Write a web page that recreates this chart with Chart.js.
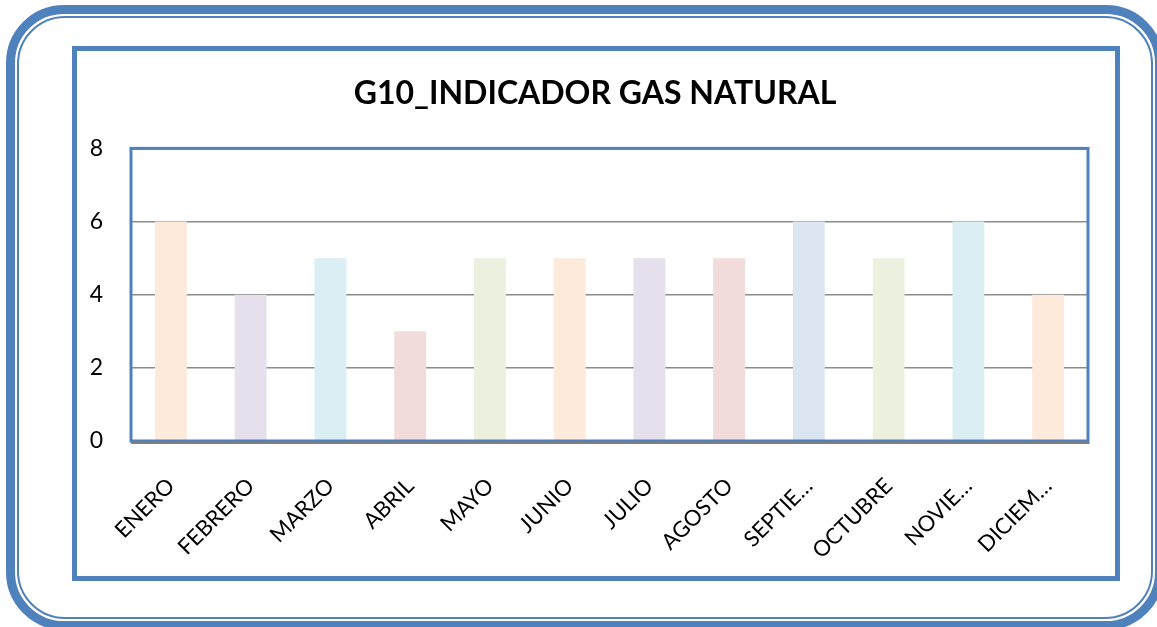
<!DOCTYPE html>
<html>
<head>
<meta charset="utf-8">
<script src="https://cdn.jsdelivr.net/npm/chart.js@4.4.1/dist/chart.umd.min.js"></script>
<style>
  html, body { margin: 0; padding: 0; background: #fff; overflow: hidden; }
  body { width: 1157px; height: 627px; position: relative; }
  #outer { position: absolute; left: 6px; top: 5px; width: 1158px; height: 625px; box-sizing: border-box;
           border: 9px solid #4F81BD; border-radius: 58px; }
  #outerInner { position: absolute; left: 2px; top: 2px; right: 2px; bottom: 2px;
           border: 2.5px solid #4F81BD; border-radius: 48px; }
  #frame { position: absolute; left: 72px; top: 46px; width: 1048px; height: 535px; box-sizing: border-box;
           border: 5px solid #4F81BD; }
  #wrap { position: absolute; left: 0; top: 0; width: 1157px; height: 627px; }
</style>
</head>
<body>
<div id="outer"><div id="outerInner"></div></div>
<div id="frame"></div>
<div id="wrap"><canvas id="c" width="1157" height="627"></canvas></div>
<script>
const categories = ["ENERO","FEBRERO","MARZO","ABRIL","MAYO","JUNIO","JULIO","AGOSTO","SEPTIE…","OCTUBRE","NOVIE…","DICIEM…"];
const values = [6, 4, 5, 3, 5, 5, 5, 5, 6, 5, 6, 4];
const barColors = ["#FDEADA","#E5E0EC","#DBEEF4","#F2DCDB","#EBF1DE","#FDEADA","#E5E0EC","#F2DCDB","#DCE6F2","#EBF1DE","#DBEEF4","#FDEADA"];
const yTicks = [0, 2, 4, 6, 8];
const titleText = "G10_INDICADOR GAS NATURAL";

const plotBorder = {
  id: 'plotBorder',
  afterLayout(chart) {
    // centre the title over the inner frame rather than the padded chart width
    const t = chart.titleBlock;
    if (t) { t.left = 102; t.width = t.right - t.left; }
  },
  afterDatasetsDraw(chart) {
    const a = chart.chartArea, ctx = chart.ctx;
    ctx.save();
    ctx.strokeStyle = '#4F81BD';
    ctx.lineWidth = 3;
    ctx.strokeRect(a.left, a.top, a.right - a.left, a.bottom - a.top);
    ctx.strokeStyle = '#808080';
    ctx.lineWidth = 2;
    ctx.beginPath();
    ctx.moveTo(a.left, a.bottom + 2);
    ctx.lineTo(a.right + 1.5, a.bottom + 2);
    ctx.stroke();
    ctx.restore();
  }
};

new Chart(document.getElementById('c'), {
  type: 'bar',
  data: {
    labels: categories,
    datasets: [{ data: values, backgroundColor: barColors, borderWidth: 0, barPercentage: 0.4, categoryPercentage: 1.0 }]
  },
  options: {
    responsive: false,
    animation: false,
    layout: { padding: { left: 0, right: 69, top: 0, bottom: 0 } },
    plugins: {
      legend: { display: false },
      tooltip: { enabled: false },
      title: {
        display: true, text: titleText, color: '#000',
        font: { family: 'Lato', size: 32, weight: 'bold' },
        padding: { top: 74, bottom: 36 }
      }
    },
    scales: {
      x: {
        grid: { display: false },
        border: { display: false },
        ticks: { color: '#000', font: { family: 'Lato', size: 22 }, minRotation: 45, maxRotation: 45, padding: 24, autoSkip: false },
        afterFit(s) { s.height = 186; }
      },
      y: {
        min: 0, max: 8,
        afterBuildTicks(s) { s.ticks = yTicks.map(v => ({ value: v })); },
        grid: { color: '#8C8C8C', lineWidth: 1.5, drawTicks: false },
        border: { display: false },
        ticks: { color: '#000', font: { family: 'Lato', size: 23 }, padding: 28 },
        afterFit(s) { s.width = 131; }
      }
    }
  },
  plugins: [plotBorder]
});
</script>
</body>
</html>
